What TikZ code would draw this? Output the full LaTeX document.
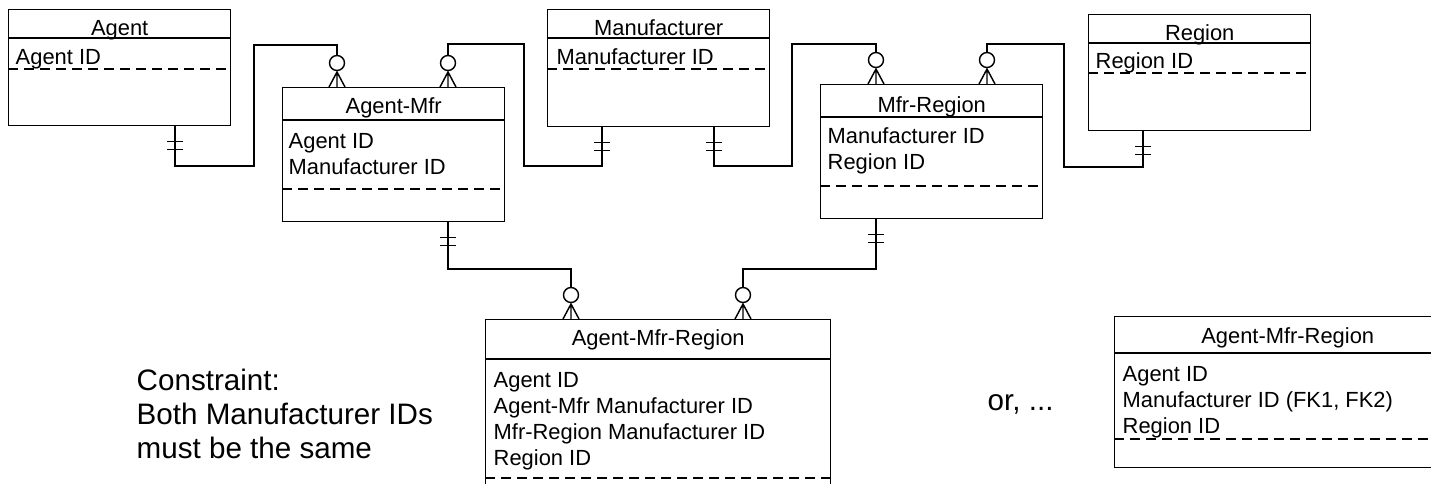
\documentclass[tikz,border=0pt]{standalone}
\usepackage{fontspec}
\setmainfont{Liberation Sans}
\usetikzlibrary{calc}
\tikzset{
  ent/.style={draw, inner sep=0pt, anchor=north west, minimum width=111pt},
  ttl/.style={anchor=base, inner sep=0pt, font=\fontsize{10.95}{13}\selectfont},
  attr/.style={anchor=base west, inner sep=0pt, align=left, font=\fontsize{10.95}{13.1}\selectfont},
  dsh/.style={dash pattern=on 5pt off 3pt},
  big/.style={anchor=base west, inner sep=0pt, align=left, font=\fontsize{14.8}{17}\selectfont},
  zm/.pic={\draw (0,-24) circle[radius=3.75pt]; \draw (-8,0) -- (0,-15) -- (8,0) (0,-15) -- (0,0);},
  one/.pic={\draw (-8,15) -- (8,15) (-8,23) -- (8,23);}
}
\begin{document}
\begin{tikzpicture}[x=0.5pt,y=-0.5pt,line width=0.72pt]
\useasboundingbox (0,0) rectangle (1431,483);
\clip (0,0) rectangle (1431,483);

% Agent
\node[ent, minimum height=58pt] (agent) at (8,9) {};
\draw ($(agent.north west)+(0,29)$) -- ($(agent.north east)+(0,29)$);
\draw[dsh] ($(agent.north west)+(0,60)$) -- ($(agent.north east)+(0,60)$);
\node[ttl] (agentT) at ($(agent.north)+(0,26)$) {Agent};
\node[attr] (agentA) at ($(agent.north west)+(7,55)$) {Agent ID};

% Manufacturer
\node[ent, minimum height=58.5pt] (mfr) at (547,9) {};
\draw ($(mfr.north west)+(0,29)$) -- ($(mfr.north east)+(0,29)$);
\draw[dsh] ($(mfr.north west)+(0,60)$) -- ($(mfr.north east)+(0,60)$);
\node[ttl] (mfrT) at ($(mfr.north)+(0,26)$) {Manufacturer};
\node[attr] (mfrA) at ($(mfr.north west)+(9,55)$) {Manufacturer ID};

% Region
\node[ent, minimum height=58pt] (reg) at (1088,14) {};
\draw ($(reg.north west)+(0,29)$) -- ($(reg.north east)+(0,29)$);
\draw[dsh] ($(reg.north west)+(0,59)$) -- ($(reg.north east)+(0,59)$);
\node[ttl] (regT) at ($(reg.north)+(0,26)$) {Region};
\node[attr] (regA) at ($(reg.north west)+(7,54)$) {Region ID};

% Agent-Mfr
\node[ent, minimum height=67pt] (am) at (282,87) {};
\draw ($(am.north west)+(0,33)$) -- ($(am.north east)+(0,33)$);
\draw[dsh] ($(am.north west)+(0,102)$) -- ($(am.north east)+(0,102)$);
\node[ttl] (amT) at ($(am.north)+(0,26)$) {Agent-Mfr};
\node[attr] (amA) at ($(am.north west)+(6,87.2)$) {Agent ID\\Manufacturer ID};

% Mfr-Region
\node[ent, minimum height=67pt] (mr) at (820,84) {};
\draw ($(mr.north west)+(0,33)$) -- ($(mr.north east)+(0,33)$);
\draw[dsh] ($(mr.north west)+(0,102)$) -- ($(mr.north east)+(0,102)$);
\node[ttl] (mrT) at ($(mr.north)+(0,28)$) {Mfr-Region};
\node[attr] (mrA) at ($(mr.north west)+(7,85.2)$) {Manufacturer ID\\Region ID};

% Agent-Mfr-Region
\node[ent, minimum width=172.5pt, minimum height=110pt] (amr) at (485,319) {};
\draw ($(amr.north west)+(0,40)$) -- ($(amr.north east)+(0,40)$);
\draw[dsh] ($(amr.north west)+(0,159)$) -- ($(amr.north east)+(0,159)$);
\node[ttl] (amrT) at ($(amr.north)+(0,26)$) {Agent-Mfr-Region};
\node[attr] (amrA) at ($(amr.north west)+(8,146.6)$) {Agent ID\\Agent-Mfr Manufacturer ID\\Mfr-Region Manufacturer ID\\Region ID};

% Alternative Agent-Mfr-Region
\node[ent, minimum width=173pt, minimum height=75.5pt] (alt) at (1114,316) {};
\draw ($(alt.north west)+(0,37)$) -- ($(alt.north east)+(0,37)$);
\draw[dsh] ($(alt.north west)+(0,123)$) -- ($(alt.north east)+(0,123)$);
\node[ttl] (altT) at ($(alt.north)+(0,27)$) {Agent-Mfr-Region};
\node[attr] (altA) at ($(alt.north west)+(8,117.4)$) {Agent ID\\Manufacturer ID (FK1, FK2)\\Region ID};

% Connectors
\draw ($(agent.south west)+(167,0)$) |- (254,166) |- (337,45) -- ($(am.north west)+(55,-31.5)$);
\draw ($(mfr.south west)+(55,0)$) |- (524,166) |- (448,44) -- ($(am.north west)+(166,-31.5)$);
\draw ($(mfr.south west)+(167,0)$) |- (792,166) |- (876,44) -- ($(mr.north west)+(56,-31.5)$);
\draw ($(reg.south west)+(55,0)$) |- (1064,167) |- (987,44) -- ($(mr.north west)+(167,-31.5)$);
\draw ($(am.south west)+(166,0)$) |- (571,269) -- ($(amr.north west)+(86,-31.5)$);
\draw ($(mr.south west)+(56,0)$) |- (743,269) -- ($(amr.north west)+(258,-31.5)$);

% Crow's feet (zero or many)
\pic at ($(am.north west)+(55,0)$) {zm};
\pic at ($(am.north west)+(166,0)$) {zm};
\pic at ($(mr.north west)+(56,0)$) {zm};
\pic at ($(mr.north west)+(167,0)$) {zm};
\pic at ($(amr.north west)+(86,0)$) {zm};
\pic at ($(amr.north west)+(258,0)$) {zm};

% One and only one
\pic at ($(agent.south west)+(167,0)$) {one};
\pic at ($(mfr.south west)+(55,0)$) {one};
\pic at ($(mfr.south west)+(167,0)$) {one};
\pic at ($(reg.south west)+(55,0)$) {one};
\pic at ($(am.south west)+(166,0)$) {one};
\pic at ($(mr.south west)+(56,0)$) {one};

% Texts
\node[big] (cons) at (136,458) {Constraint:\\Both Manufacturer IDs\\must be the same};
\node[big] (orr) at (987,410) {or, ...};
\end{tikzpicture}
\end{document}
